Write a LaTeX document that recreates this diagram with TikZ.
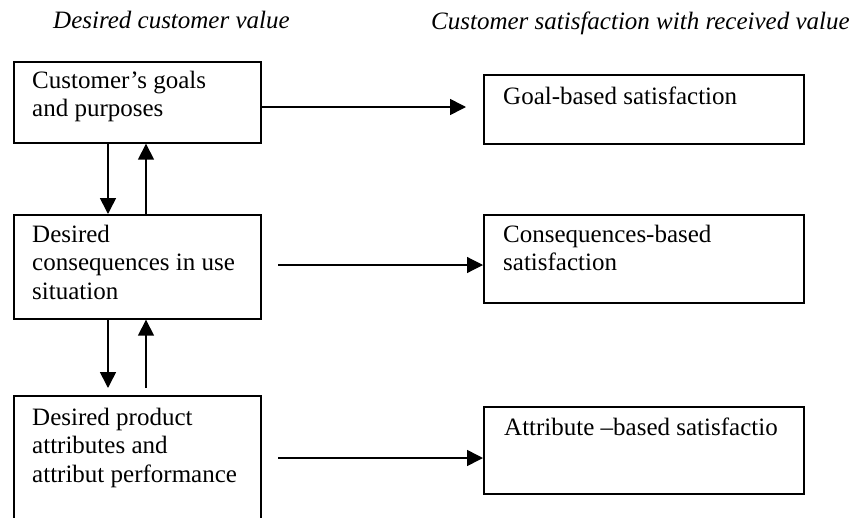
\documentclass[tikz,border=0pt]{standalone}
\usepackage{fontspec}
\setmainfont{Liberation Serif}
\usetikzlibrary{arrows.meta}
\begin{document}
\begin{tikzpicture}[x=1pt,y=-1pt,
  box/.style={draw, line width=1.7pt, rectangle, inner sep=0pt, anchor=north west},
  txt/.style={anchor=base west, inner sep=0pt, font=\fontsize{25}{28.5}\selectfont},
  head/.style={anchor=base west, inner sep=0pt, font=\fontsize{25}{30}\selectfont\itshape},
  link/.style={line width=1.6pt, -{Triangle[length=16pt,width=16pt]}},
]
\clip (0,0) rectangle (854,517);

% column headings
\node[head] (ttl-l) at (53,28) {Desired customer value};
\node[head] (ttl-r) at (431,29) {Customer satisfaction with received value};

% desired value hierarchy (left column)
\node[box, minimum width=247pt, minimum height=81pt]  (goals) at (13,61)  {};
\node[box, minimum width=247pt, minimum height=104pt] (cons)  at (13,214) {};
\node[box, minimum width=247pt, minimum height=135pt] (attr)  at (13,395) {};

\node[txt] (goals-t) at (32,88)
  {\begin{tabular}[t]{@{}l@{}}Customer’s goals\\and purposes\end{tabular}};
\node[txt] (cons-t) at (32,242)
  {\begin{tabular}[t]{@{}l@{}}Desired\\consequences in use\\situation\end{tabular}};
\node[txt] (attr-t) at (32,425)
  {\begin{tabular}[t]{@{}l@{}}Desired product\\attributes and\\attribut performance\end{tabular}};

% satisfaction boxes (right column)
\node[box, minimum width=320pt, minimum height=69pt] (goal-sat) at (483,74)  {};
\node[box, minimum width=320pt, minimum height=88pt] (cons-sat) at (483,214) {};
\node[box, minimum width=320pt, minimum height=87pt] (attr-sat) at (483,406) {};

\node[txt] (goal-sat-t) at (503,104) {Goal-based satisfaction};
\node[txt] (cons-sat-t) at (503,242)
  {\begin{tabular}[t]{@{}l@{}}Consequences-based\\satisfaction\end{tabular}};
\node[txt] (attr-sat-t) at (504,435) {Attribute –based satisfactio};

% horizontal links
\coordinate (gEnd)   at (466,107);
\coordinate (cStart) at (278,265);
\coordinate (aStart) at (278,458);
\draw[link] (goals.east |- gEnd) -- (gEnd);
\draw[link, line width=1.2pt] (cStart) -- (cStart -| cons-sat.west);
\draw[link] (aStart) -- (aStart -| attr-sat.west);

% vertical links between the levels
\draw[link] ([xshift=95pt]goals.south west) -- ([xshift=95pt]cons.north west);
\draw[link] ([xshift=133pt]cons.north west) -- ([xshift=133pt]goals.south west);
\draw[link] ([xshift=95pt]cons.south west) -- ([xshift=95pt,yshift=7pt]attr.north west);
\draw[link] ([xshift=133pt,yshift=7pt]attr.north west) -- ([xshift=133pt]cons.south west);
\end{tikzpicture}
\end{document}
